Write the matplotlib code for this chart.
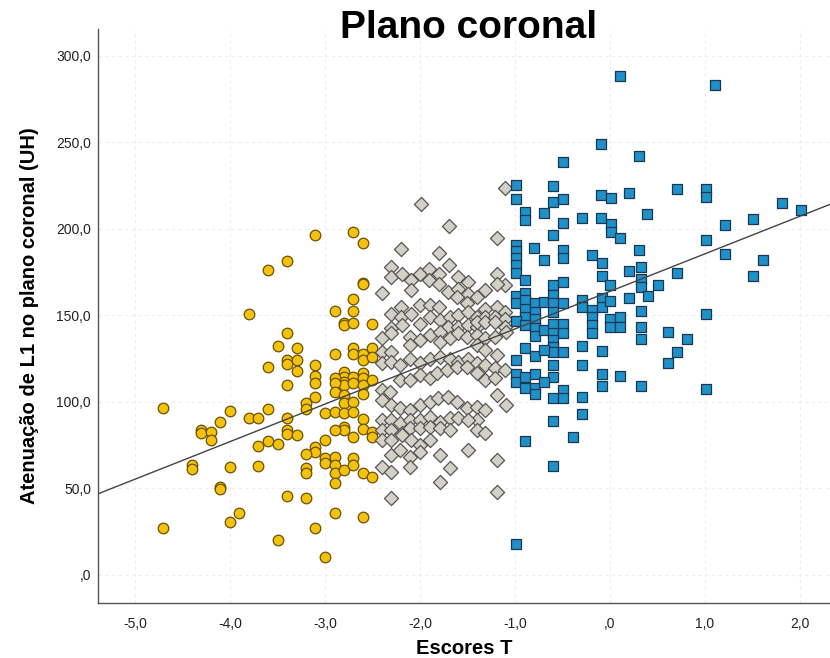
import matplotlib
matplotlib.use("Agg")
import matplotlib.pyplot as plt
from matplotlib.ticker import FixedLocator, FixedFormatter

plt.rcParams['font.family'] = ['Liberation Sans', 'DejaVu Sans']

# ---- data (T score, attenuation UH) ----
yellow_t = [-3.10, -3.40, -3.60, -3.80, -3.40, -3.49, -3.29, -3.40, -3.40, -3.29,
            -3.60, -3.29, -3.10, -3.10, -3.10, -3.40, -3.10, -3.20, -3.20, -4.70,
            -4.00, -4.10, -3.80, -3.70, -3.60, -3.40, -4.30, -4.30, -4.20, -4.20,
            -3.40, -3.40, -3.29, -3.60, -3.49, -3.70, -3.10, -3.10, -3.20, -4.40,
            -4.40, -4.00, -3.70, -3.20, -3.20, -4.10, -4.10, -3.40, -3.20, -3.90,
            -4.00, -4.70, -3.10, -3.49, -2.70, -2.60, -2.60, -2.60, -2.70, -2.89,
            -2.70, -2.80, -2.80, -2.70, -2.50, -2.89, -2.70, -2.70, -2.60, -2.60,
            -2.50, -2.50, -2.80, -2.80, -2.80, -2.80, -2.89, -2.89, -2.70, -2.70,
            -2.60, -2.60, -2.60, -2.50, -2.89, -2.80, -2.80, -2.70, -2.60, -3.00,
            -2.89, -2.80, -2.70, -2.60, -2.80, -2.80, -2.89, -3.00, -2.70, -2.60,
            -2.50, -2.50, -3.00, -3.00, -2.89, -2.89, -2.89, -2.89, -2.80, -2.70,
            -2.70, -2.60, -2.50, -2.89, -2.60, -3.00]
yellow_v = [196.2, 181.4, 176.4, 151.0, 139.8, 132.5, 131.2, 124.3, 121.8, 124.4,
            120.2, 117.9, 121.2, 115.0, 110.6, 109.8, 102.9, 99.6, 95.8, 96.2,
            94.6, 88.1, 90.8, 90.6, 95.6, 90.8, 83.7, 81.8, 82.5, 77.9,
            83.7, 81.4, 80.8, 77.5, 75.8, 74.4, 74.0, 70.8, 69.7, 63.5,
            61.0, 62.1, 63.1, 61.6, 59.0, 51.0, 49.6, 45.8, 44.3, 36.0,
            30.8, 27.3, 27.3, 20.2, 198.3, 191.8, 168.7, 167.8, 159.3, 152.5,
            152.3, 145.6, 144.6, 145.6, 144.8, 127.9, 130.8, 127.9, 127.9, 124.1,
            130.8, 126.0, 117.3, 114.4, 111.5, 109.6, 113.5, 110.6, 114.4, 110.6,
            116.7, 113.5, 109.6, 112.5, 105.8, 103.9, 99.1, 100.0, 104.8, 93.3,
            94.2, 93.3, 94.2, 89.8, 85.6, 83.7, 83.7, 77.9, 79.8, 84.1,
            82.7, 79.8, 67.3, 64.5, 68.3, 63.5, 58.7, 52.9, 60.6, 67.3,
            63.5, 58.7, 56.7, 35.6, 33.3, 10.2]

grey_t = [-1.99, -1.69, -2.20, -1.80, -1.69, -2.30, -2.30, -2.19, -2.09, -2.00,
          -1.90, -1.90, -1.80, -1.80, -1.60, -1.49, -2.40, -2.09, -1.70, -1.60,
          -1.49, -1.61, -1.51, -1.40, -2.20, -2.30, -2.20, -2.09, -2.00, -1.89,
          -1.80, -2.30, -2.19, -1.89, -1.79, -1.68, -1.60, -1.49, -1.40, -1.70,
          -1.60, -1.49, -1.40, -2.00,
          -2.40, -2.30, -2.40, -2.30, -2.11, -2.11, -2.00, -1.89, -1.79, -1.79,
          -1.68, -1.60, -1.51, -1.40, -1.40,
          -2.40, -2.30, -2.21, -2.11, -2.00, -1.89, -1.79, -1.68, -1.60, -1.49, -1.40,
          -2.40, -2.32, -2.21, -2.11, -2.00, -1.89, -1.82, -1.72, -1.61, -1.51, -1.40,
          -2.40, -2.30, -2.21, -2.11, -2.00, -1.89, -1.81, -1.70, -1.61, -1.51, -1.40, -1.40,
          -2.40, -2.30, -2.21, -2.11, -2.00, -1.89, -1.79, -1.68, -1.60, -1.49,
          -2.40, -2.30, -2.19, -2.11, -2.00, -1.89, -1.79, -1.68,
          -2.40, -2.30, -2.19, -2.09, -2.00, -1.89,
          -2.30, -2.21, -2.11, -2.00, -1.79, -1.49,
          -2.40, -2.30, -2.11, -1.68, -1.79, -2.30,
          -1.19, -1.105, -1.32, -1.19, -1.32, -1.19, -1.105, -1.32, -1.21, -1.105,
          -1.40, -1.32, -1.21, -1.105, -1.09, -1.32, -1.21, -1.32, -1.19, -1.32,
          -1.21, -1.105, -1.32, -1.21, -1.19, -1.09, -1.32, -1.40, -1.32,
          -1.19, -1.19, -1.105, -1.19]
grey_v = [214.5, 201.6, 188.1, 186.0, 178.9, 177.6, 172.1, 174.1, 170.2, 173.7,
          177.0, 170.2, 174.1, 168.3, 172.1, 169.2, 163.1, 164.5, 163.5, 165.4,
          162.5, 160.6, 156.8, 160.6, 154.8, 151.0, 149.0, 151.0, 155.8, 155.8,
          154.8, 142.4, 144.3, 149.0, 147.1, 149.0, 150.0, 151.9, 149.0, 143.3,
          143.3, 144.3, 143.3, 145.2,
          136.6, 139.5, 128.9, 128.9, 137.5, 132.7, 135.6, 138.5, 140.4, 134.6,
          136.6, 139.5, 137.5, 138.5, 132.7,
          122.2, 123.1, 121.2, 125.0, 122.2, 125.0, 126.0, 125.0, 123.1, 125.0, 122.2,
          106.8, 105.8, 112.5, 112.5, 115.4, 113.5, 116.4, 118.3, 120.2, 120.2, 116.4,
          101.0, 98.1, 96.2, 95.2, 98.1, 100.0, 102.0, 102.9, 100.0, 96.2, 97.1, 89.4,
          89.4, 89.4, 87.5, 89.4, 89.4, 91.3, 88.5, 90.4, 90.4, 89.4,
          83.7, 83.7, 81.8, 84.6, 84.6, 85.6, 84.6, 83.7,
          77.9, 77.9, 80.8, 77.9, 75.0, 77.9,
          69.2, 72.1, 68.3, 71.1, 69.2, 72.1,
          62.5, 59.6, 62.5, 61.6, 53.8, 44.3,
          174.1, 167.3, 164.5, 168.3, 153.9, 154.8, 151.9, 149.0, 149.0, 148.1,
          146.2, 146.2, 146.2, 143.3, 140.4, 136.6, 137.5, 129.8, 126.9, 121.2,
          119.3, 118.3, 112.5, 113.5, 103.9, 98.1, 95.2, 83.7, 81.8,
          66.4, 48.1, 223.7, 194.9]

blue_t = [0.105, -0.095, 0.31, -0.49, -0.99, -0.99, -0.60, -0.60, -0.49, -0.095,
          0.007, 0.20, -0.89, -0.89, -0.69, -0.29, -0.095, 0.007, 0.007, 0.105,
          0.39, -0.49, -0.60,
          -0.99, -0.99, -0.99, -0.99, -0.99,
          -0.80, -0.49, -0.49, -0.19, 0.31, -0.69,
          -0.087, -0.087, 0.0, 0.20, -0.89, -0.60, -0.49,
          -0.99, -0.99, -0.89, -0.89, -0.89, -0.89, -0.79, -0.79, -0.79, -0.69,
          -0.60, -0.60, -0.60, -0.49,
          -0.99, -0.89, -0.79, -0.79, -0.69, -0.60, -0.60, -0.60, -0.60, -0.60,
          -0.49, -0.49, -0.49, -0.89, -0.79, -0.69, -0.99,
          -0.29, -0.29, -0.19, -0.19, -0.19, -0.19, -0.087, -0.087, 0.0, 0.0,
          0.0, 0.105, 0.105, 0.20,
          -0.29, -0.29, -0.087, -0.60, -0.60, -0.99, -0.99, -0.89, -0.89, -0.79,
          -0.79, -0.79, -0.69, -0.60, -0.49, -0.49, -0.087, -0.087, 0.105, -0.29,
          -0.29, -0.60,
          -0.89, -0.39, -0.60, -0.99,
          1.105, 0.71, 1.007, 1.007, 1.81, 2.01, 1.51, 1.21, 1.007, 1.21,
          1.61, 1.51, 0.71, 0.33, 0.33, 0.33, 0.51, 0.40, 0.33, 0.33,
          0.33, 1.007, 0.61, 0.81, 0.71, 0.61, 0.33, 1.007]
blue_v = [288.0, 248.7, 242.0, 238.5, 225.0, 217.1, 224.5, 215.4, 217.1, 219.3,
          218.0, 220.6, 209.5, 204.9, 209.3, 206.4, 206.4, 202.5, 198.1, 194.6,
          208.3, 203.3, 196.2,
          190.4, 186.9, 182.8, 178.8, 174.3,
          189.1, 187.5, 183.3, 184.6, 187.9, 181.8,
          179.9, 172.5, 167.3, 175.6, 170.6, 167.3, 169.2,
          161.0, 156.8, 162.9, 158.7, 153.9, 149.0, 156.8, 151.9, 148.1, 157.7,
          161.6, 156.8, 151.9, 156.8,
          146.7, 144.3, 142.9, 137.9, 141.4, 144.8, 139.5, 135.6, 131.7, 128.9,
          144.8, 139.8, 128.9, 130.8, 126.4, 129.8, 124.1,
          159.1, 154.5, 153.3, 149.0, 144.3, 139.8, 159.7, 154.8, 158.3, 148.1,
          143.3, 149.0, 143.3, 160.2,
          132.1, 121.2, 129.4, 121.2, 114.4, 115.8, 111.5, 114.4, 107.7, 115.8,
          108.1, 104.3, 111.5, 102.0, 106.8, 102.0, 115.8, 109.1, 114.8, 102.9,
          92.9, 89.0,
          77.3, 79.8, 63.1, 17.7,
          283.2, 223.1, 223.1, 218.3, 214.8, 210.6, 205.8, 202.4, 193.7, 185.1,
          181.8, 172.7, 174.4, 177.9, 171.2, 166.4, 167.3, 161.0, 152.3, 143.3,
          136.0, 151.0, 140.4, 136.0, 128.5, 122.2, 109.1, 107.2]

# fit line
fit_intercept = 163.8
fit_slope = 21.7

x_ticks = [-5, -4, -3, -2, -1, 0, 1, 2]
x_tick_labels = ["-5,0", "-4,0", "-3,0", "-2,0", "-1,0", ",0", "1,0", "2,0"]
y_ticks = [0, 50, 100, 150, 200, 250, 300]
y_tick_labels = [",0", "50,0", "100,0", "150,0", "200,0", "250,0", "300,0"]

title = "Plano coronal"
x_label = "Escores T"
y_label = "Atenuação de L1 no plano coronal (UH)"

# ---- figure ----
fig = plt.figure(figsize=(8.3, 6.58), dpi=100)
ax = fig.add_axes([0.118, 0.0836, 0.882, 0.873])

ax.set_xlim(-5.39, 2.316)
ax.set_ylim(-16.2, 315.6)

ax.grid(True, color='#ededed', linestyle=(0, (3, 3)), linewidth=0.8)
ax.set_axisbelow(True)

ax.scatter(yellow_t, yellow_v, s=58, marker='o', facecolor='#F4C20D',
           edgecolor='#6a5200', linewidth=0.9, zorder=3)
ax.scatter(grey_t, grey_v, s=52, marker='D', facecolor='#D3D1C6',
           edgecolor='#555555', linewidth=0.9, zorder=3)
ax.scatter(blue_t, blue_v, s=52, marker='s', facecolor='#1F90C8',
           edgecolor='#1a3850', linewidth=0.9, zorder=3)

ax.axline((0, fit_intercept), slope=fit_slope, color='#444444', linewidth=1.0, zorder=5)

for side in ['top', 'right']:
    ax.spines[side].set_visible(False)
for side in ['left', 'bottom']:
    ax.spines[side].set_color('#555555')
    ax.spines[side].set_linewidth(1.0)

ax.xaxis.set_major_locator(FixedLocator(x_ticks))
ax.xaxis.set_major_formatter(FixedFormatter(x_tick_labels))
ax.yaxis.set_major_locator(FixedLocator(y_ticks))
ax.yaxis.set_major_formatter(FixedFormatter(y_tick_labels))
ax.tick_params(axis='both', length=0, labelsize=10, colors='#222222')
ax.tick_params(axis='x', pad=10)
ax.tick_params(axis='y', pad=5)

ax.set_xlabel(x_label, fontsize=14.5, fontweight='bold', labelpad=6)
ax.set_ylabel(y_label, fontsize=14.5, fontweight='bold', labelpad=12)

fig.text(0.565, 0.957, title, fontsize=28, fontweight='bold', ha='center', va='center')

fig.savefig("out.png", dpi=100)
